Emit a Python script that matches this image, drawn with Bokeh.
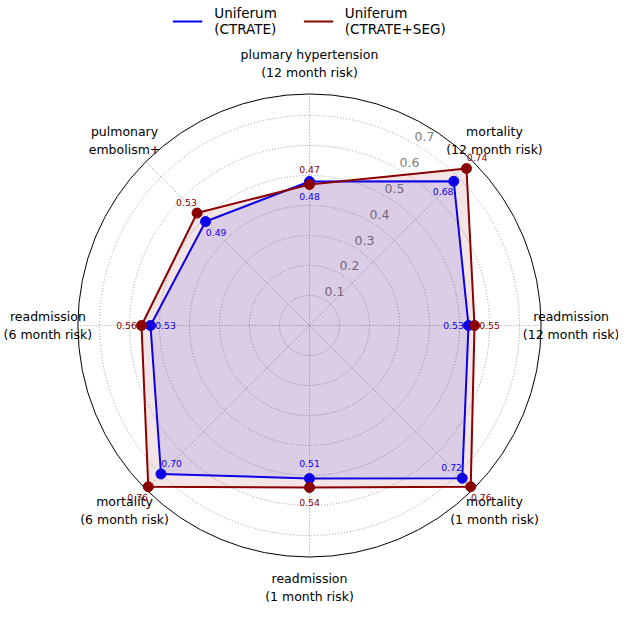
import numpy as np
from bokeh.plotting import figure
from bokeh.models import Range1d, Legend, LegendItem
from bokeh.embed import file_html
from bokeh.resources import INLINE
from bokeh.core.properties import value

# ---------------- data ----------------
categories = [
    "plumary hypertension\n(12 month risk)",
    "mortality\n(12 month risk)",
    "readmission\n(12 month risk)",
    "mortality\n(1 month risk)",
    "readmission\n(1 month risk)",
    "mortality\n(6 month risk)",
    "readmission\n(6 month risk)",
    "pulmonary\nembolism+",
]
ctrate = [0.48, 0.68, 0.53, 0.72, 0.51, 0.70, 0.53, 0.49]
ctrate_seg = [0.47, 0.74, 0.55, 0.76, 0.54, 0.76, 0.56, 0.53]
series_names = ["Uniferum\n(CTRATE)", "Uniferum\n(CTRATE+SEG)"]
series_colors = ["blue", "darkred"]
r_ticks = [0.1, 0.2, 0.3, 0.4, 0.5, 0.6, 0.7]
r_max = 0.772

FONT = "DejaVu Sans"
GRID = "#9a9a9a"
n = len(categories)
theta = np.arange(n) * 2 * np.pi / n


def to_xy(r, th):
    r = np.asarray(r, dtype=float)
    return r * np.sin(th), r * np.cos(th)


p = figure(width=618, height=604,
           x_range=Range1d(-1.03, 1.03), y_range=Range1d(-0.93, 1.0833),
           output_backend="svg", toolbar_location=None, min_border=0,
           x_axis_location=None, y_axis_location=None)
p.grid.visible = False
p.outline_line_color = None

# grid circles
p.circle(x=[0] * len(r_ticks), y=[0] * len(r_ticks), radius=r_ticks,
         fill_color=None, line_color=GRID, line_dash="1 2", line_width=1)
# spokes
sx, sy = to_xy(np.full(n, r_max), theta)
p.segment(x0=[0] * n, y0=[0] * n, x1=sx, y1=sy,
          line_color=GRID, line_dash="1 2", line_width=1)
# outer circle
p.circle(x=[0], y=[0], radius=[r_max], fill_color=None, line_color="black", line_width=1)

# radial tick labels
rt = np.array(r_ticks)
p.text(x=0.0333 + 0.5 * rt, y=0.0267 + 0.86 * rt, text=[f"{v:.1f}" for v in r_ticks],
       text_align="center", text_baseline="middle", text_color="gray",
       text_font=value(FONT), text_font_size="12.5px")

# category labels
cx, cy = to_xy(np.full(n, 0.872), theta)
p.text(x=cx, y=cy, text=categories, text_align="center", text_baseline="middle",
       text_color="black", text_font=value(FONT), text_font_size="12.5px",
       text_line_height=1.2)

legend_items = []
for vals, name, col, off in [(ctrate, series_names[0], series_colors[0], -0.05),
                             (ctrate_seg, series_names[1], series_colors[1], 0.05)]:
    x, y = to_xy(vals, theta)
    xc = list(x) + [x[0]]
    yc = list(y) + [y[0]]
    p.patch(xc, yc, fill_color=col, fill_alpha=0.1, line_color=None)
    ln = p.line(xc, yc, line_color=col, line_width=2)
    p.scatter(x, y, size=10, fill_color=col, line_color=col, marker="circle")
    lx, ly = to_xy(np.array(vals) + off, theta)
    p.text(x=lx, y=ly, text=[f"{v:.2f}" for v in vals], text_align="center",
           text_baseline="middle", text_color=col, text_font=value(FONT),
           text_font_size="9.3px")
    legend_items.append(LegendItem(label=name, renderers=[ln]))

legend = Legend(items=legend_items, orientation="horizontal", location="top_center",
                border_line_color=None, background_fill_alpha=0, padding=0, margin=5,
                glyph_width=30, label_standoff=12, spacing=26,
                label_text_font=FONT, label_text_font_size="13.5px",
                label_text_color="black", label_text_line_height=1.1)
p.add_layout(legend, "center")

open("out.html", "w").write(file_html(p, INLINE))
